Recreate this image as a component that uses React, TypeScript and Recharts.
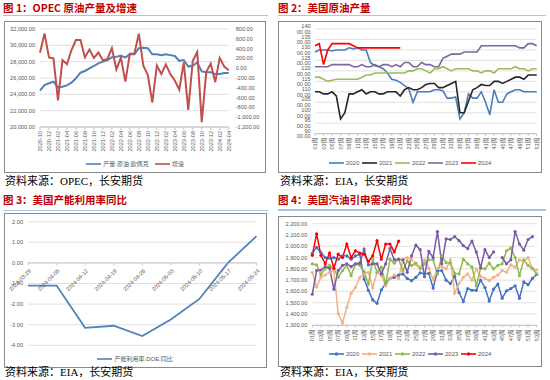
import React from 'react';
import { LineChart, Line, XAxis, YAxis, CartesianGrid, Legend } from 'recharts';

const SANS = '"Liberation Sans", Arial, "Noto Sans CJK SC", sans-serif';
const CJK = '"Noto Sans CJK SC", "Liberation Sans", sans-serif';
const SERIF = '"Liberation Serif", "Noto Sans CJK SC", serif';
const AXIS_GRAY = '#595959';
const GRID = '#d9d9d9';
const TICK_FS = 5.6;

// ---------- Chart 1: OPEC production & growth ----------
const opecMonths = [
  '2020-10', '2020-11', '2020-12', '2021-01', '2021-02', '2021-03', '2021-04', '2021-05', '2021-06', '2021-07',
  '2021-08', '2021-09', '2021-10', '2021-11', '2021-12', '2022-01', '2022-02', '2022-03', '2022-04', '2022-05',
  '2022-06', '2022-07', '2022-08', '2022-09', '2022-10', '2022-11', '2022-12', '2023-01', '2023-02', '2023-03',
  '2023-04', '2023-05', '2023-06', '2023-07', '2023-08', '2023-09', '2023-10', '2023-11', '2023-12', '2024-01',
  '2024-02', '2024-03', '2024-04',
];
const opecProduction = [
  24450, 25140, 25350, 25550, 24860, 24940, 25100, 25430, 25960, 26650,
  26860, 27180, 27470, 27800, 28000, 28200, 28530, 28600, 28730, 28530,
  28900, 28900, 29650, 29700, 29650, 28900, 28900, 28800, 28900, 28800,
  28700, 28100, 28200, 27400, 27500, 27900, 26800, 26700, 26700, 26500,
  26500, 26600, 26600,
];
const opecGrowth = [
  315, 710, 220, 200, -655, 165, 80, 370, 575, 575,
  220, 380, 210, 320, 160, 190, 410, -25, 215, -275,
  295, 295, 705, 50, -140, -700, 55, -120, 80, -120,
  -250, -440, 120, -850, 150, 330, -1100, -80, 95, -285,
  210, 35, -40,
];
const opecLeftTicks = [20000, 22000, 24000, 26000, 28000, 30000, 32000];
const opecRightTicks = [-1200, -1000, -800, -600, -400, -200, 0, 200, 400, 600, 800];

// ---------- Chart 2 & 4: weekly ----------
const weekLabels = [
  '01周', '02周', '03周', '04周', '05周', '06周', '07周', '08周', '09周', '10周',
  '11周', '12周', '13周', '14周', '15周', '16周', '17周', '18周', '19周', '20周',
  '21周', '22周', '23周', '24周', '25周', '26周', '27周', '28周', '29周', '30周',
  '31周', '32周', '33周', '34周', '35周', '36周', '37周', '38周', '39周', '40周',
  '41周', '42周', '43周', '44周', '45周', '46周', '47周', '48周', '49周', '50周',
  '51周', '52周', '53周',
];

const crude2020 = [
  12900, 13000, 13000, 13000, 12950, 13000, 13000, 13000, 13100, 13050,
  13100, 13000, 13000, 12400, 12250, 12200, 12100, 11900, 11600, 11550,
  11450, 11300, 11150, 10500, 11000, 11000, 11000, 11000, 11100, 11100,
  11050, 10700, 10700, 10750, 9700, 10000, 10900, 10700, 10700, 11000,
  10500, 9900, 11100, 10500, 10500, 10900, 11000, 11100, 11100, 11000,
  11000, 11000, 11000,
];
const crude2021 = [
  11000, 11000, 10900, 10900, 11000, 10800, 9700, 10000, 10900, 10900,
  11000, 11100, 10900, 11000, 11000, 10900, 10900, 11000, 11000, 11000,
  10800, 11100, 11200, 11100, 11100, 11200, 11350, 11400, 11400, 11200,
  11200, 11300, 11400, 11500, 10000, 10000, 10550, 11100, 11200, 11350,
  11300, 11300, 11500, 11500, 11400, 11500, 11600, 11700, 11700, 11600,
  11800, 11800, 11800,
];
const crude2022 = [
  11700, 11700, 11600, 11500, 11550, 11600, 11600, 11600, 11600, 11600,
  11600, 11700, 11800, 11800, 11900, 11900, 11900, 11900, 11900, 11900,
  11900, 11900, 12000, 12000, 12100, 12100, 12000, 11900, 12100, 12100,
  12200, 12100, 12000, 12100, 12100, 12100, 12100, 12000, 12000, 11900,
  12000, 12000, 11900, 12100, 12100, 12100, 12100, 12200, 12100, 12100,
  12000, 12100, 12100,
];
const crude2023 = [
  12200, 12200, 12200, 12200, 12300, 12300, 12300, 12300, 12300, 12200,
  12200, 12300, 12200, 12200, 12300, 12200, 12300, 12300, 12200, 12300,
  12200, 12400, 12400, 12200, 12200, 12400, 12300, 12300, 12200, 12200,
  12600, 12700, 12800, 12800, 12800, 12900, 12900, 12900, 12900, 13200,
  13200, 13200, 13200, 13200, 13200, 13200, 13200, 13200, 13100, 13100,
  13300, 13300, 13200,
];
const crude2024 = [
  13200, 13300, 12300, 13000, 13300, 13300, 13300, 13300, 13300, 13200,
  13100, 13100, 13100, 13100, 13100, 13100, 13100, 13100, 13100, 13100,
  13100,
];
const crudeTicks = [9000, 9500, 10000, 10500, 11000, 11500, 12000, 12500, 13000, 13500, 14000];

const gas2020 = [
  1937, 1990, 1945, 1900, 1895, 1900, 1885, 1915, 1915, 1885,
  1915, 1930, 1710, 1610, 1525, 1495, 1615, 1670, 1715, 1725,
  1745, 1755, 1715, 1695, 1725, 1765, 1755, 1760, 1630, 1780,
  1785, 1700, 1670, 1735, 1590, 1510, 1625, 1610, 1610, 1700,
  1635, 1515, 1620, 1665, 1540, 1605, 1625, 1650, 1540, 1685,
  1660, 1715, 1750,
];
const gas2021 = [
  1770, 1640, 1725, 1745, 1770, 1785, 1405, 1320, 1460, 1585,
  1635, 1725, 1755, 1770, 1630, 1770, 1740, 1650, 1715, 1745,
  1715, 1880, 1900, 1885, 1835, 1815, 1880, 1805, 1705, 1805,
  1820, 1800, 1880, 1585, 1670, 1725, 1755, 1700, 1800, 1735,
  1715, 1695, 1725, 1745, 1785, 1770, 1835, 1815, 1880, 1865,
  1900, 1800, 1790,
];
const gas2022 = [
  1845, 1835, 1750, 1800, 1830, 1805, 1725, 1785, 1830, 1740,
  1845, 1830, 1775, 1665, 1885, 1770, 1815, 1665, 1885, 1850,
  1885, 1785, 1870, 1830, 1850, 1800, 1845, 1880, 1880, 1755,
  1915, 1855, 1850, 1760, 1755, 1885, 1845, 1815, 1650, 1805,
  1800, 1850, 1800, 1830, 1845, 1960, 1985, 1900, 1740, 1880,
  1830, 1805, 1755,
];
const gas2023 = [
  1575, 1785, 1790, 1820, 1805, 1620, 1785, 1830, 1845, 1820,
  1845, 1850, 1975, 1835, 1845, 1845, 1755, 1845, 1980, 1880,
  1885, 1880, 1770, 1915, 2010, 1970, 1730, 1955, 1900, 2130,
  1845, 2065, 2060, 2085, 2050, 2005, 1980, 2045, 1950, 1810,
  1970, 1900, 1950, null, 1900, 1845, 1880, 2130, 2020, 1965,
  2060, 2085, null,
];
const gas2024 = [
  1920, 2110, 1920, 1845, 1940, 1805, 1930, 1900, 2020, 1900,
  1960, 1940, 1930, 1865, 1915, 2050, 1885, 2020, 2020, 1950,
  2045,
];
const gasTicks = [1300, 1400, 1500, 1600, 1700, 1800, 1900, 2000, 2100, 2200];

// ---------- Chart 3: utilization YoY ----------
const utilDates = ['2024-03-29', '2024-04-05', '2024-04-12', '2024-04-19', '2024-04-26', '2024-05-03', '2024-05-10', '2024-05-17', '2024-05-24'];
const utilYoY = [-1.1, -1.1, -3.15, -3.05, -3.55, -2.75, -1.75, 0.0, 1.3];
const utilTicks = [-4, -3, -2, -1, 0, 1, 2];

const YEAR_NAMES = ['2020', '2021', '2022', '2023', '2024'];
const CRUDE_COLORS = ['#4a7ebb', '#262626', '#9bbb59', '#8064a2', '#ff0000'];
const GAS_COLORS = ['#4472c4', '#f4b183', '#8fbc4f', '#7b5aa6', '#ff0000'];

// ---------- tables ----------
const opecData = opecMonths.map((m, i) => ({ m, prod: opecProduction[i], growth: opecGrowth[i] }));
const crudeData = weekLabels.map((w, i) => ({
  w, y2020: crude2020[i], y2021: crude2021[i], y2022: crude2022[i], y2023: crude2023[i], y2024: crude2024[i] ?? null,
}));
const gasData = weekLabels.map((w, i) => ({
  w, y2020: gas2020[i], y2021: gas2021[i], y2022: gas2022[i], y2023: gas2023[i], y2024: gas2024[i] ?? null,
}));
const utilData = utilDates.map((d, i) => ({ d, v: utilYoY[i] }));

// ---------- helpers ----------
const fmtThousands = (v: number) => v.toLocaleString('en-US', { minimumFractionDigits: 2, maximumFractionDigits: 2 });
const fmtCrude = (v: number) => `${Math.floor(v / 100)} ${String(v % 100).padStart(2, '0')}.00`;
const fmt2 = (v: number) => v.toFixed(2);

function RotTick(props: any) {
  const { x, y, payload, angle } = props;
  return (
    <g transform={`translate(${x},${y})`}>
      <text transform={`rotate(${angle})`} textAnchor="end" dominantBaseline="central" fontSize={TICK_FS} fill={AXIS_GRAY} fontFamily={SANS}>
        {payload.value}
      </text>
    </g>
  );
}

function LegendRow({ items, marker, gap }: { items: { name: string; color: string }[]; marker?: boolean; gap: number }) {
  return (
    <div style={{ display: 'flex', justifyContent: 'center', alignItems: 'center', height: 14, fontFamily: SANS, fontSize: 6, color: AXIS_GRAY, whiteSpace: 'nowrap' }}>
      {items.map((it) => (
        <span key={it.name} style={{ display: 'inline-flex', alignItems: 'center', margin: `0 ${gap}px` }}>
          <svg width={15} height={6} style={{ display: 'block' }}>
            <line x1={0} y1={3} x2={15} y2={3} stroke={it.color} strokeWidth={1.6} />
            {marker && <circle cx={7.5} cy={3} r={1.7} fill={it.color} />}
          </svg>
          <span style={{ marginLeft: 2.3, lineHeight: '8px' }}>{it.name}</span>
        </span>
      ))}
    </div>
  );
}

const yTick = { fontSize: TICK_FS, fill: AXIS_GRAY, fontFamily: SANS };

function Panel({ x, y, w, title, lineY, box, source, sourceY, children }: any) {
  return (
    <>
      <div style={{ position: 'absolute', left: x, top: y, fontFamily: CJK, fontWeight: 700, fontSize: 10.5, lineHeight: '12px', color: '#c00000', whiteSpace: 'nowrap' }}>{title}</div>
      <div style={{ position: 'absolute', left: x, top: lineY, width: w, height: 1.6, background: '#a5c6e6' }} />
      <div style={{ position: 'absolute', left: box.l, top: box.t, width: box.w, height: box.h, border: '1px solid #8a8a8a', boxSizing: 'border-box', background: '#fff' }} />
      <div style={{ position: 'absolute', left: box.l, top: box.t }}>{children}</div>
      <div style={{ position: 'absolute', left: x + 2, top: sourceY, fontFamily: SERIF, fontSize: 11, lineHeight: '13px', color: '#000', whiteSpace: 'nowrap' }}>{source}</div>
    </>
  );
}

function ZeroAxisLabel(props: any) {
  const { x, y, index } = props;
  if (x == null || y == null) return null;
  return (
    <g>
      <line x1={x} y1={y} x2={x} y2={y + 2.5} stroke="#bfbfbf" strokeWidth={0.8} />
      <text transform={`translate(${x + 2},${y + 7}) rotate(-45)`} textAnchor="end" dominantBaseline="central" fontSize={TICK_FS} fill={AXIS_GRAY} fontFamily={SANS}>
        {utilDates[index]}
      </text>
    </g>
  );
}

export default function App() {
  return (
    <div style={{ position: 'absolute', left: 0, top: 0, width: 550, height: 380, background: '#fff', overflow: 'hidden' }}>
      {/* Chart 1 */}
      <Panel x={3} y={2} w={265} lineY={14.5} title="图 1：OPEC 原油产量及增速" box={{ l: 4, t: 21, w: 262, h: 152 }} source="资料来源：OPEC，长安期货" sourceY={175}>
        <LineChart width={262} height={151} data={opecData} margin={{ top: 8, right: 0, bottom: 0, left: 0 }}>
          <CartesianGrid yAxisId="left" vertical={false} stroke={GRID} strokeWidth={0.8} />
          <XAxis dataKey="m" scale="point" padding={{ left: 0, right: 0 }} interval={1} height={31} tickSize={3} tickMargin={1}
            axisLine={{ stroke: '#bfbfbf' }} tickLine={{ stroke: '#bfbfbf' }} tick={<RotTick angle={-90} />} />
          <YAxis yAxisId="left" domain={[20000, 32000]} ticks={opecLeftTicks} width={36} axisLine={false} tickLine={false} tickSize={0} tickMargin={5}
            tickFormatter={fmtThousands} tick={yTick} interval={0} />
          <YAxis yAxisId="right" orientation="right" domain={[-1200, 800]} ticks={opecRightTicks} width={37.3} axisLine={false} tickLine={false} tickSize={0} tickMargin={7}
            tickFormatter={fmtThousands} tick={{ ...yTick, textAnchor: 'start' }} interval={0} />
          <Line yAxisId="left" dataKey="prod" name="产量:原油:欧佩克" stroke="#4f81bd" strokeWidth={2} dot={false} isAnimationActive={false} />
          <Line yAxisId="right" dataKey="growth" name="增速" stroke="#c0504d" strokeWidth={2} dot={false} isAnimationActive={false} />
          <Legend wrapperStyle={{ left: 0, width: 262, height: 14, bottom: 1 }}
            content={() => <LegendRow gap={3} items={[{ name: '产量:原油:欧佩克', color: '#4f81bd' }, { name: '增速', color: '#c0504d' }]} />} />
        </LineChart>
      </Panel>

      {/* Chart 2 */}
      <Panel x={278} y={2} w={268} lineY={14.5} title="图 2：美国原油产量" box={{ l: 278, t: 21, w: 264, h: 152 }} source="资料来源：EIA，长安期货" sourceY={175}>
        <LineChart width={264} height={152} data={crudeData} margin={{ top: 8, right: 5.3, bottom: 0, left: 0 }}>
          <CartesianGrid vertical={false} stroke={GRID} strokeWidth={0.8} />
          <XAxis dataKey="w" scale="point" padding={{ left: 0, right: 0 }} interval={1} height={25.3} tickSize={2} tickMargin={2}
            axisLine={{ stroke: '#bfbfbf' }} tickLine={{ stroke: '#bfbfbf' }} tick={<RotTick angle={-90} />} />
          <YAxis domain={[9000, 14000]} ticks={crudeTicks} width={37} axisLine={false} tickLine={false} tickSize={0} tickMargin={4.3}
            tickFormatter={fmtCrude} tick={yTick} interval={0} />
          {['y2020', 'y2021', 'y2022', 'y2023', 'y2024'].map((k, i) => (
            <Line key={k} dataKey={k} name={YEAR_NAMES[i]} stroke={CRUDE_COLORS[i]} strokeWidth={1.6} dot={false} isAnimationActive={false} connectNulls={false} />
          ))}
          <Legend wrapperStyle={{ left: 0, width: 264, height: 14, bottom: 2.7 }}
            content={() => <LegendRow gap={1.2} items={YEAR_NAMES.map((n, i) => ({ name: n, color: CRUDE_COLORS[i] }))} />} />
        </LineChart>
      </Panel>

      {/* Chart 3 */}
      <Panel x={3} y={194} w={265} lineY={209.5} title="图 3：美国产能利用率同比" box={{ l: 4, t: 212.5, w: 262.5, h: 155 }} source="资料来源：EIA，长安期货" sourceY={366}>
        <LineChart width={262} height={154} data={utilData} margin={{ top: 8.7, right: 9.5, bottom: 7.7, left: 0 }}>
          <CartesianGrid vertical={false} stroke={GRID} strokeWidth={0.8} />
          <XAxis dataKey="d" scale="point" padding={{ left: 0, right: 0 }} hide />
          <YAxis domain={[-4, 2]} ticks={utilTicks} width={24} axisLine={false} tickLine={false} tickSize={0} tickMargin={5}
            tickFormatter={fmt2} tick={yTick} interval={0} />
          <Line dataKey={() => 0} stroke="#bfbfbf" strokeWidth={0.8} dot={false} isAnimationActive={false} legendType="none"
            label={<ZeroAxisLabel />} />
          <Line dataKey="v" name="产能利用率:DOE:同比" stroke="#4f81bd" strokeWidth={1.8} dot={false} isAnimationActive={false} />
          <Legend wrapperStyle={{ left: 0, width: 262, height: 14, bottom: 1 }}
            content={() => <LegendRow gap={2} items={[{ name: '产能利用率:DOE:同比', color: '#4f81bd' }]} />} />
        </LineChart>
      </Panel>

      {/* Chart 4 */}
      <Panel x={278} y={194} w={268} lineY={209} title="图 4：美国汽油引申需求同比" box={{ l: 278, t: 216, w: 264, h: 151 }} source="资料来源：EIA，长安期货" sourceY={366}>
        <LineChart width={264} height={150} data={gasData} margin={{ top: 7.7, right: 5.3, bottom: 0, left: 0 }}>
          <CartesianGrid vertical={false} stroke={GRID} strokeWidth={0.8} />
          <XAxis dataKey="w" scale="point" padding={{ left: 0, right: 0 }} interval={1} height={26.7} tickSize={2} tickMargin={2}
            axisLine={{ stroke: '#bfbfbf' }} tickLine={{ stroke: '#bfbfbf' }} tick={<RotTick angle={-90} />} />
          <YAxis domain={[1300, 2200]} ticks={gasTicks} width={34.3} axisLine={false} tickLine={false} tickSize={0} tickMargin={5}
            tickFormatter={fmtThousands} tick={yTick} interval={0} />
          {['y2020', 'y2021', 'y2022', 'y2023', 'y2024'].map((k, i) => (
            <Line key={k} dataKey={k} name={YEAR_NAMES[i]} stroke={GAS_COLORS[i]} strokeWidth={1.5}
              dot={{ r: 1.6, fill: GAS_COLORS[i], stroke: GAS_COLORS[i], strokeWidth: 0 }} isAnimationActive={false} connectNulls={false} />
          ))}
          <Legend wrapperStyle={{ left: 0, width: 264, height: 14, bottom: 4.7 }}
            content={() => <LegendRow gap={1.2} marker items={YEAR_NAMES.map((n, i) => ({ name: n, color: GAS_COLORS[i] }))} />} />
        </LineChart>
      </Panel>
    </div>
  );
}
